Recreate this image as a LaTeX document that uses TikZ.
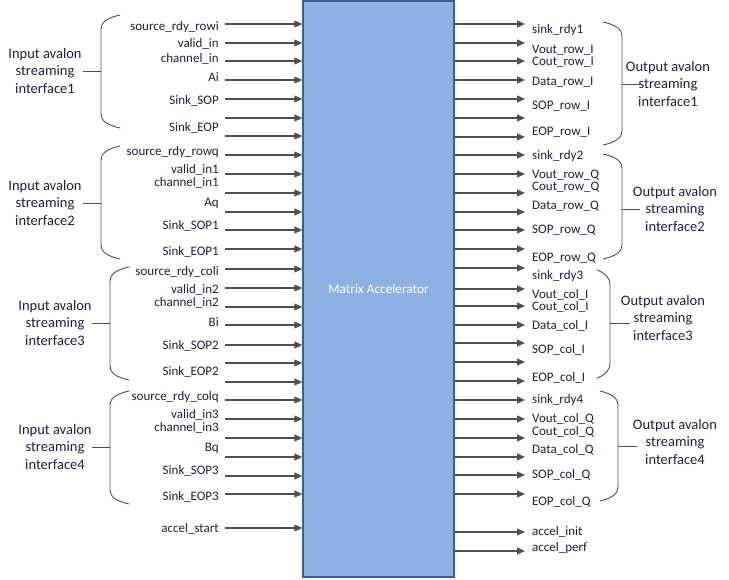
\documentclass[tikz,border=0pt]{standalone}
\usepackage{fontspec}
\setmainfont{Carlito}
\usetikzlibrary{arrows.meta}
\definecolor{accfill}{HTML}{8EB1E3}
\definecolor{accline}{HTML}{3F5F8C}
\definecolor{txt}{HTML}{1E1E46}
\definecolor{sigline}{HTML}{505050}
\tikzset{
  sig/.style={draw=sigline,line width=1.1pt,-{Triangle[length=8pt,width=7pt]}},
  brace/.style={draw=sigline,line width=0.9pt},
  lbl/.style={text=txt,inner sep=0pt,yshift=-1.5pt,text height=0.7em,text depth=0.2em,font=\fontsize{13}{15}\selectfont},
  grp/.style={text=txt,inner sep=0pt,align=center,font=\fontsize{14.5}{17.5}\selectfont},
  accbox/.style={draw=accline,line width=1.3pt,fill=accfill,text=white,font=\fontsize{13.3}{15}\selectfont}
}
\begin{document}
\begin{tikzpicture}[x=1pt,y=-1pt]
  \useasboundingbox (0,0) rectangle (729,579);
  % accelerator block
  \node[accbox,minimum width=151pt,minimum height=576pt] (acc) at (378.5,289) {Matrix Accelerator};
  % input ports
  \foreach \y [count=\i] in {24,43,61,80,99,118,136,155,174,193,212,230,249,269,288,307,325,345,363,382,400,419,438,457,476,494,528}{
    \coordinate (in\i) at (225,\y);
    \draw[sig] (in\i) -- (in\i -| acc.west);}
  % output ports
  \foreach \y [count=\i] in {24,43,61,80,99,118,137,155,174,193,212,230,249,268,289,306,325,343,362,381,400,419,438,457,475,494,532,551}{
    \coordinate (out\i) at (525,\y);
    \draw[sig] (out\i -| acc.east) -- (out\i);}
  % input names
  \foreach \y/\t [count=\i] in {26/source\_rdy\_rowi, 43/valid\_in, 58/channel\_in, 77/Ai, 100/Sink\_SOP, 127/Sink\_EOP,
      151/source\_rdy\_rowq, 169/valid\_in1, 182/channel\_in1, 202/Aq, 225/Sink\_SOP1, 251/Sink\_EOP1,
      271/source\_rdy\_coli, 289/valid\_in2, 302/channel\_in2, 322/Bi, 345/Sink\_SOP2, 371/Sink\_EOP2,
      396/source\_rdy\_colq, 414/valid\_in3, 427/channel\_in3, 447/Bq, 470/Sink\_SOP3, 496/Sink\_EOP3,
      528/accel\_start}{
    \node[lbl,anchor=east] (inlbl\i) at (219,\y) {\t};}
  % output names
  \foreach \y/\t [count=\i] in {29/sink\_rdy1, 49/Vout\_row\_I, 61/Cout\_row\_I, 81/Data\_row\_I, 105/SOP\_row\_I, 131/EOP\_row\_I,
      155/sink\_rdy2, 174/Vout\_row\_Q, 186/Cout\_row\_Q, 205/Data\_row\_Q, 229/SOP\_row\_Q, 257/EOP\_row\_Q,
      275/sink\_rdy3, 294/Vout\_col\_I, 306/Cout\_col\_I, 325/Data\_col\_I, 349/SOP\_col\_I, 377/EOP\_col\_I,
      399/sink\_rdy4, 418/Vout\_col\_Q, 431/Cout\_col\_Q, 449/Data\_col\_Q, 474/SOP\_col\_Q, 501/EOP\_col\_Q,
      531/accel\_init, 547/accel\_perf}{
    \node[lbl,anchor=west] (outlbl\i) at (532,\y) {\t};}
  % input interface braces
  \foreach \bx/\top/\bot/\mid/\tx [count=\i] in {101/15/128/71/83, 101/146/259/203/83, 110/267/380/323/92, 110/391/504/447/92}{
    \draw[brace] (\bx+19,\top) .. controls (\bx+5,\top+3) and (\bx,\top+8) .. (\bx,\top+14)
      -- (\bx,\bot-14) .. controls (\bx,\bot-8) and (\bx+5,\bot-3) .. (\bx+19,\bot);
    \coordinate (inmid\i) at (\tx,\mid);
    \draw[brace] (\bx,\mid) -- (inmid\i);}
  % output interface braces
  \foreach \tx/\top/\bx/\bot/\mid/\ex [count=\i] in {603/22/622/145/84/640, 603/154/622/259/209/640, 597/270/610/378/323/630, 600/391/618/501/446/637}{
    \draw[brace] (\tx,\top) .. controls (\bx-5,\top+3) and (\bx,\top+8) .. (\bx,\top+14)
      -- (\bx,\bot-14) .. controls (\bx,\bot-8) and (\bx-5,\bot-3) .. (\tx,\bot);
    \coordinate (outmid\i) at (\ex,\mid);
    \draw[brace] (\bx,\mid) -- (outmid\i);}
  % interface names
  \node[grp] (ingrp1) at (45,71) {Input avalon\\streaming\\interface1};
  \node[grp] (ingrp2) at (45,203) {Input avalon\\streaming\\interface2};
  \node[grp] (ingrp3) at (55,323) {Input avalon\\streaming\\interface3};
  \node[grp] (ingrp4) at (55,447) {Input avalon\\streaming\\interface4};
  \node[grp] (outgrp1) at (668,84) {Output avalon\\streaming\\interface1};
  \node[grp] (outgrp2) at (675,209) {Output avalon\\streaming\\interface2};
  \node[grp] (outgrp3) at (663,318) {Output avalon\\streaming\\interface3};
  \node[grp] (outgrp4) at (675,442) {Output avalon\\streaming\\interface4};
\end{tikzpicture}
\end{document}
